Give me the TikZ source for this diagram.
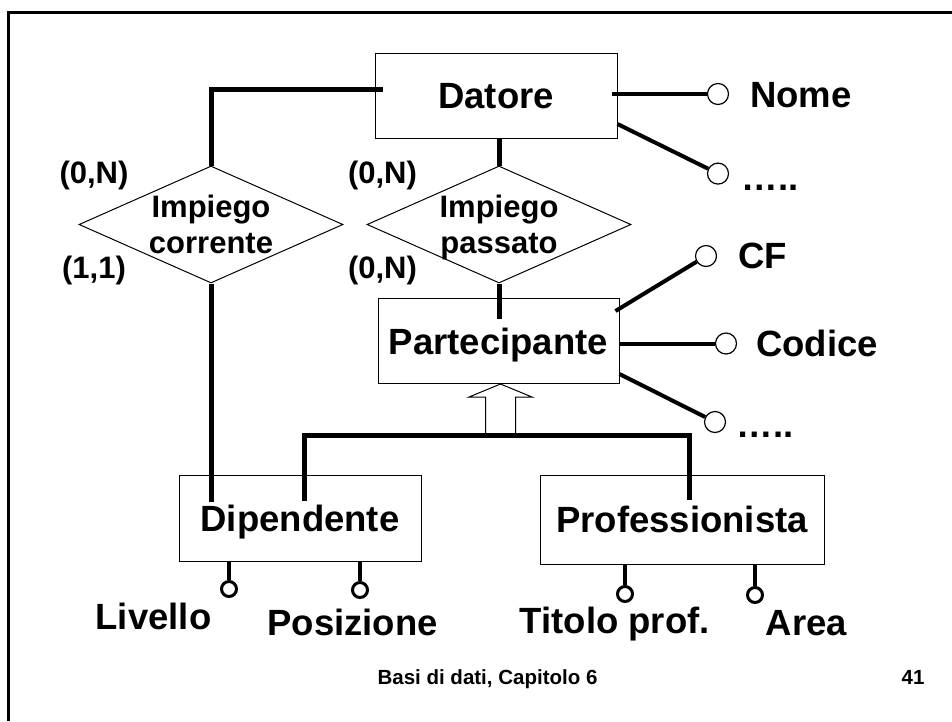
\documentclass[tikz,border=0pt]{standalone}
\usepackage{fontspec}
\setmainfont{Liberation Sans}
\usetikzlibrary{shapes.geometric,calc}
\begin{document}
\begin{tikzpicture}[x=1pt,y=-1pt,
  ent/.style={draw, line width=1pt, inner sep=0pt, text depth=0pt, font=\bfseries\fontsize{36.5}{40}\selectfont},
  rel/.style={diamond, draw, line width=1pt, inner sep=0pt, minimum width=264pt, minimum height=117pt},
  rtext/.style={align=center, inner sep=0pt, text depth=0pt, font=\bfseries\fontsize{31}{36}\selectfont},
  card/.style={inner sep=0pt, text depth=0pt, font=\bfseries\fontsize{31}{36}\selectfont},
  attr/.style={inner sep=0pt, text depth=0pt, font=\bfseries\fontsize{36.5}{40}\selectfont},
  foot/.style={inner sep=0pt, text depth=0pt, font=\bfseries\fontsize{20.5}{24}\selectfont},
  conn/.style={line width=5pt},
  aline/.style={line width=4pt},
  thinline/.style={line width=1pt},
  acirc/.style={circle, draw, fill=white, line width=1.2pt, minimum size=21pt, inner sep=0pt},
  bcirc/.style={circle, draw, fill=white, line width=3pt, minimum size=15pt, inner sep=0pt}]
\useasboundingbox (0,0) rectangle (952,721);
\draw[line width=3pt] (8,721) -- (8,12) -- (952,12);

% entities
\node[ent, minimum width=242pt, minimum height=85pt] (D) at (496,96) {Datore};
\node[ent, minimum width=241pt, minimum height=85pt] (P) at (498.5,341) {Partecipante};
\node[ent, minimum width=242pt, minimum height=86pt] (Dip) at (300,518) {Dipendente};
\node[ent, minimum width=284pt, minimum height=89pt] (Prof) at (682,519.5) {Professionista};

% relationships
\node[rel] (IC) at (211,224.5) {};
\node[rel] (IP) at (499,224.5) {};
\node[rtext] (ICt) at (IC) {Impiego\\corrente};
\node[rtext] (IPt) at (IP) {Impiego\\passato};

% cardinalities
\node[card] (c1) at (94,172) {(0,N)};
\node[card] (c2) at (94,267.6) {(1,1)};
\node[card] (c3) at (382.5,172) {(0,N)};
\node[card] (c4) at (382.5,267.6) {(0,N)};

% relationship connectors
\draw[conn] ([xshift=8pt,yshift=6.5pt]D.west) -| (IC.north);
\draw[conn] (IC.south) -- ($(IC.south |- Dip.center)+(0,-16.5)$);
\draw[conn] (IP.north) -- (IP.north |- D.south);
\draw[conn] (IP.south) -- ($(IP.south |- P.north)+(0,21)$);

% generalization
\coordinate (tip) at ($(P.south)+(2,0)$);
\coordinate (isaJ) at ($(tip)+(0,51)$);
\coordinate (dipTop) at ($(Dip.center)+(4,-17)$);
\coordinate (profTop) at ($(Prof.center)+(7,-19.5)$);
\draw[thinline, fill=white] ($(isaJ)+(-15,0)$) -- ($(tip)+(-15,13)$) -- ($(tip)+(-31.5,13)$) -- (tip) -- ($(tip)+(31.5,13)$) -- ($(tip)+(15,13)$) -- ($(isaJ)+(15,0)$);
\draw[conn] (dipTop) |- (isaJ) -| (profTop);

% Datore attributes
\node[acirc] (cNome) at (718,94) {};
\draw[aline] ([xshift=-6pt,yshift=2pt]D.east) -- (cNome);
\node[attr, anchor=west] (tNome) at (750,95) {Nome};
\node[acirc] (cD2) at (718,173.6) {};
\draw[aline] ([yshift=-28pt]D.east) -- (cD2);
\node[attr] (tD2) at (770,187.5) {…..};

% Partecipante attributes
\node[acirc] (cCF) at (706,256) {};
\draw[aline] ([xshift=-4pt,yshift=30pt]P.east) -- (cCF);
\node[attr, anchor=west] (tCF) at (738,256) {CF};
\node[acirc] (cCod) at (726,343.5) {};
\draw[aline] ([xshift=-1pt,yshift=-2.5pt]P.east) -- (cCod);
\node[attr, anchor=west] (tCod) at (756,343.5) {Codice};
\node[acirc] (cP3) at (715,422) {};
\draw[aline] ([yshift=-33pt]P.east) -- (cP3);
\node[attr] (tP3) at (765,435) {…..};

% Dipendente / Professionista attributes
\node[bcirc] (cLiv) at (229,589) {};
\draw[aline] (cLiv) -- (cLiv |- Dip.south);
\node[attr] (tLiv) at (153.5,616.7) {Livello};
\node[bcirc] (cPos) at (360,590) {};
\draw[aline] (cPos) -- (cPos |- Dip.south);
\node[attr] (tPos) at (352.6,622.7) {Posizione};
\node[bcirc] (cTit) at (625,594) {};
\draw[aline] (cTit) -- (cTit |- Prof.south);
\node[attr] (tTit) at (614.7,620.4) {Titolo prof.};
\node[bcirc] (cArea) at (755,595) {};
\draw[aline] (cArea) -- (cArea |- Prof.south);
\node[attr] (tArea) at (806.5,622.7) {Area};

% footer
\node[foot] (f1) at (487.5,677) {Basi di dati, Capitolo 6};
\node[foot] (f2) at (913,677) {41};
\end{tikzpicture}
\end{document}
